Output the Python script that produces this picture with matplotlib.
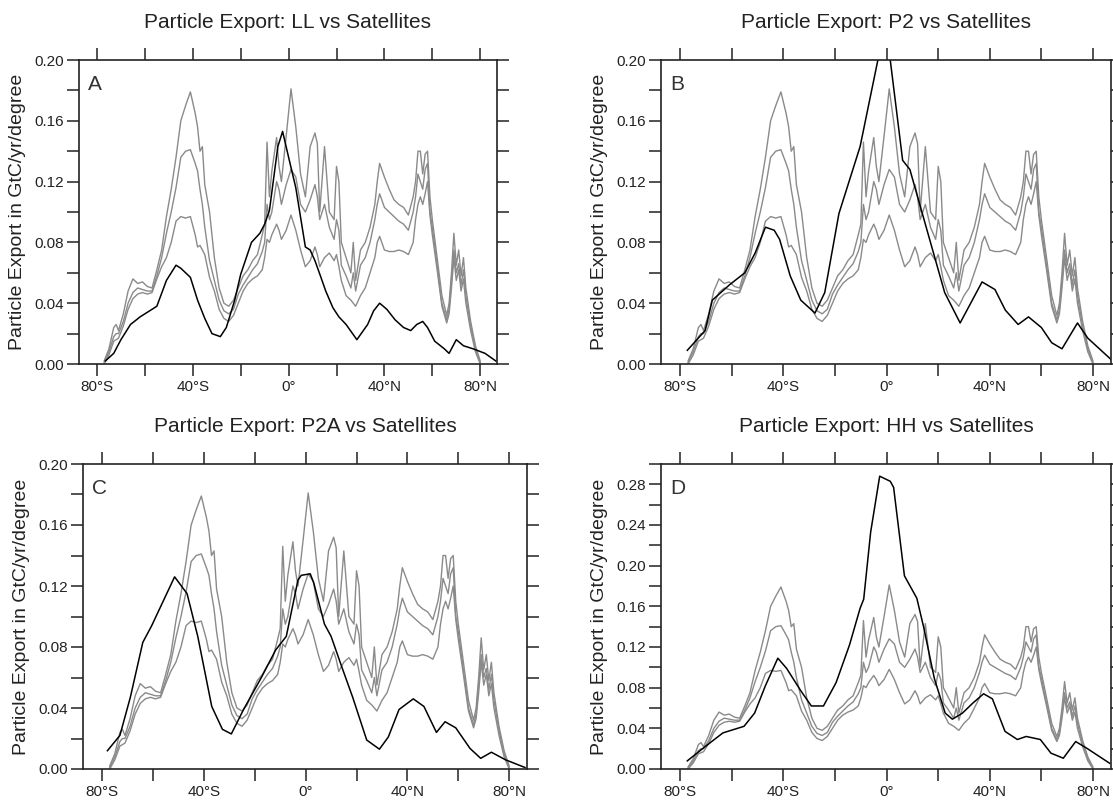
import matplotlib
matplotlib.use('Agg')
import matplotlib.pyplot as plt
from matplotlib.ticker import MultipleLocator, FuncFormatter

plt.rcParams['font.family'] = ['Liberation Sans', 'DejaVu Sans']

# satellite estimates (same three curves in every panel)
sat_lat = [-77, -75, -73, -72, -71, -69, -67, -65, -63, -61,
           -59, -57, -55, -53, -51, -49, -47, -45, -43, -41,
           -39, -38, -37, -36, -35, -33, -31, -29, -27, -25,
           -23, -21, -19, -17, -15, -13, -11, -10, -9, -8,
           -7, -5, -4, -3, -1, 1, 3, 5, 7, 9,
           11, 12, 13, 15, 17, 19, 20, 21, 22, 24,
           26, 27, 28, 30, 32, 34, 36, 37, 38, 40,
           42, 44, 46, 48, 50, 52, 53, 54, 55, 56,
           57, 58, 59, 60, 62, 64, 66, 67, 68, 69,
           70, 71, 72, 73, 74, 76, 78, 80]
sat_high = [0.002, 0.010, 0.024, 0.026, 0.022, 0.033, 0.048, 0.056, 0.053, 0.054,
            0.051, 0.050, 0.062, 0.075, 0.097, 0.115, 0.136, 0.160, 0.170, 0.179,
            0.165, 0.156, 0.140, 0.143, 0.118, 0.100, 0.070, 0.050, 0.040, 0.038,
            0.042, 0.050, 0.058, 0.062, 0.068, 0.072, 0.085, 0.092, 0.146, 0.110,
            0.127, 0.149, 0.130, 0.120, 0.150, 0.181, 0.156, 0.125, 0.110, 0.143,
            0.152, 0.145, 0.100, 0.143, 0.100, 0.095, 0.130, 0.120, 0.080, 0.070,
            0.060, 0.080, 0.055, 0.075, 0.080, 0.090, 0.105, 0.120, 0.132, 0.123,
            0.115, 0.108, 0.105, 0.103, 0.098, 0.110, 0.120, 0.140, 0.140, 0.125,
            0.138, 0.140, 0.110, 0.095, 0.070, 0.045, 0.032, 0.040, 0.060, 0.086,
            0.065, 0.075, 0.058, 0.070, 0.050, 0.028, 0.012, 0.002]
sat_mid = [0.001, 0.008, 0.018, 0.020, 0.020, 0.028, 0.040, 0.047, 0.050, 0.049,
           0.048, 0.048, 0.058, 0.070, 0.086, 0.100, 0.116, 0.136, 0.140, 0.141,
           0.132, 0.127, 0.115, 0.105, 0.090, 0.068, 0.055, 0.042, 0.035, 0.033,
           0.036, 0.046, 0.052, 0.057, 0.062, 0.066, 0.074, 0.080, 0.105, 0.095,
           0.100, 0.120, 0.115, 0.105, 0.118, 0.128, 0.123, 0.105, 0.100, 0.108,
           0.118, 0.110, 0.095, 0.105, 0.090, 0.082, 0.095, 0.088, 0.065, 0.058,
           0.050, 0.060, 0.048, 0.065, 0.070, 0.080, 0.095, 0.105, 0.112, 0.103,
           0.100, 0.097, 0.094, 0.092, 0.088, 0.100, 0.110, 0.125, 0.120, 0.115,
           0.128, 0.132, 0.100, 0.090, 0.065, 0.040, 0.029, 0.036, 0.055, 0.075,
           0.060, 0.066, 0.052, 0.062, 0.045, 0.025, 0.010, 0.001]
sat_low = [0.000, 0.006, 0.015, 0.016, 0.017, 0.025, 0.036, 0.043, 0.046, 0.047,
           0.046, 0.047, 0.056, 0.064, 0.070, 0.080, 0.094, 0.097, 0.096, 0.097,
           0.085, 0.077, 0.078, 0.075, 0.072, 0.057, 0.048, 0.036, 0.030, 0.028,
           0.032, 0.040, 0.048, 0.053, 0.056, 0.058, 0.062, 0.070, 0.082, 0.080,
           0.085, 0.092, 0.088, 0.082, 0.088, 0.098, 0.088, 0.075, 0.064, 0.068,
           0.077, 0.072, 0.064, 0.070, 0.073, 0.068, 0.072, 0.064, 0.055, 0.045,
           0.042, 0.040, 0.038, 0.045, 0.050, 0.060, 0.070, 0.080, 0.084, 0.075,
           0.074, 0.074, 0.075, 0.074, 0.072, 0.080, 0.095, 0.105, 0.110, 0.105,
           0.112, 0.120, 0.098, 0.085, 0.062, 0.038, 0.027, 0.033, 0.050, 0.070,
           0.055, 0.062, 0.048, 0.056, 0.040, 0.022, 0.008, 0.000]

# model curves
ll_lat = [-76.5, -73, -70, -66, -62, -58, -55, -51, -47, -45,
          -41, -38, -35, -32, -28.5, -26, -22.5, -20, -15.5, -12,
          -10, -8, -4.5, -2.5, 0, 3, 7, 9, 11, 13.5,
          15.5, 18.5, 21, 24, 28.5, 33, 35.5, 38, 41, 44.5,
          48, 51, 53.5, 56, 58, 61, 65, 67, 70, 73,
          77, 82, 86.5]
ll_val = [0.002, 0.007, 0.016, 0.026, 0.031, 0.035, 0.038, 0.055, 0.065, 0.063,
          0.057, 0.042, 0.030, 0.020, 0.018, 0.024, 0.042, 0.059, 0.080, 0.086,
          0.092, 0.101, 0.143, 0.153, 0.136, 0.116, 0.077, 0.075, 0.068, 0.057,
          0.048, 0.037, 0.031, 0.026, 0.016, 0.026, 0.035, 0.040, 0.036, 0.029,
          0.024, 0.022, 0.026, 0.028, 0.024, 0.015, 0.010, 0.007, 0.016, 0.012,
          0.010, 0.007, 0.002]

p2_lat = [-77.3, -70.4, -67.6, -61, -55, -51, -47, -43.6, -41.5, -37.4,
          -33.3, -27.8, -24, -18.5, -10.3, -3.4, 0, 1.4, 6.2, 9,
          13, 18.5, 22.5, 28.5, 37, 42, 46, 51, 55, 60,
          64, 68, 74, 78, 87]
p2_val = [0.009, 0.022, 0.042, 0.052, 0.060, 0.073, 0.090, 0.088, 0.082, 0.058,
          0.042, 0.0335, 0.047, 0.099, 0.143, 0.200, 0.202, 0.200, 0.134, 0.128,
          0.104, 0.071, 0.047, 0.027, 0.054, 0.049, 0.0355, 0.026, 0.031, 0.024,
          0.014, 0.010, 0.027, 0.017, 0.003]

p2a_lat = [-77.9, -73, -68.9, -64, -60.5, -51.5, -46.6, -42.4, -36.9, -32.7,
           -29.2, -24.4, -17.4, -11.8, -7.6, -3, -1.7, 1.8, 3.2, 7.4,
           10, 14.2, 18.5, 24, 29, 32.5, 36.7, 42.3, 46.5, 51.4,
           54.8, 59, 64.6, 68.8, 73, 78.6, 86.2]
p2a_val = [0.012, 0.022, 0.047, 0.083, 0.094, 0.126, 0.115, 0.087, 0.041, 0.026,
           0.023, 0.039, 0.060, 0.078, 0.087, 0.124, 0.127, 0.128, 0.122, 0.095,
           0.087, 0.067, 0.047, 0.019, 0.013, 0.021, 0.039, 0.046, 0.041, 0.024,
           0.031, 0.027, 0.0135, 0.007, 0.011, 0.006, 0.001]

hh_lat = [-77.3, -70.4, -63.5, -55.3, -51.2, -47, -42.2, -38.8, -33.3, -29.2,
          -24.5, -19.6, -14.4, -10.3, -8.9, -6.2, -2.7, 1.4, 2.7, 6.9,
          11.7, 14.4, 18.5, 22.7, 25.5, 29.4, 33.5, 37.6, 41, 45.9,
          50.7, 54.1, 59.6, 63.7, 68.5, 73.3, 77.5, 86.5]
hh_val = [0.008, 0.022, 0.0355, 0.042, 0.055, 0.082, 0.109, 0.099, 0.077, 0.062,
          0.062, 0.085, 0.122, 0.158, 0.167, 0.233, 0.288, 0.283, 0.277, 0.190,
          0.168, 0.139, 0.089, 0.055, 0.049, 0.055, 0.065, 0.074, 0.069, 0.037,
          0.029, 0.032, 0.029, 0.0156, 0.0106, 0.027, 0.0206, 0.0056]

model_names = ['LL', 'P2', 'P2A', 'HH']
panel_letters = ['A', 'B', 'C', 'D']
y_tops = [0.20, 0.20, 0.20, 0.30]

W, H = 1113, 800
GRAY = '#8a8a8a'

fig = plt.figure(figsize=(W / 100, H / 100), dpi=100)


def px_axes(left, top, right, bottom):
    return fig.add_axes([left / W, 1 - bottom / H, (right - left) / W, (bottom - top) / H])


def lat_fmt(v, pos):
    v = int(round(v))
    if v % 40:
        return ''
    if v == 0:
        return '0\u00b0'
    return f"{abs(v)}\u00b0{'S' if v < 0 else 'N'}"


# pixel boxes (left, top, right, bottom) and y label x position
boxes = [(79, 60, 497, 364), (661, 60, 1111, 364),
         (83, 464, 527, 769), (661, 464, 1111, 769)]
ylabel_x = [18, 600, 22, 600]
models = [(ll_lat, ll_val), (p2_lat, p2_val), (p2a_lat, p2a_val), (hh_lat, hh_val)]

for i in range(4):
    left, top, right, bottom = boxes[i]
    ax = px_axes(left, top, right, bottom)
    for s in (sat_high, sat_mid, sat_low):
        ax.plot(sat_lat, s, color=GRAY, lw=1.0)
    ax.plot(models[i][0], models[i][1], color='black', lw=1.1)

    ax.set_xlim(-87.5, 87)
    ax.set_ylim(0, y_tops[i])
    ax.xaxis.set_major_locator(MultipleLocator(20))
    ax.xaxis.set_major_formatter(FuncFormatter(lat_fmt))
    ax.yaxis.set_major_locator(MultipleLocator(0.04))
    ax.yaxis.set_minor_locator(MultipleLocator(0.02))
    ax.yaxis.set_major_formatter(FuncFormatter(lambda v, p: f'{v:.2f}'))
    ax.tick_params(axis='both', which='both', direction='out', length=8.5, width=1.1,
                   top=True, right=True, labelsize=11, colors='#222222')
    ax.tick_params(axis='x', pad=3)
    ax.tick_params(axis='y', pad=2)
    for sp in ax.spines.values():
        sp.set_linewidth(1.2)
        sp.set_color('#222222')

    h = bottom - top
    ax.text(0.5, 1 + 28 / h, f'Particle Export: {model_names[i]} vs Satellites',
            transform=ax.transAxes, ha='center', va='bottom', fontsize=15,
            color='#222222')
    ax.text(9 / (right - left), 1 - 15 / h, panel_letters[i], transform=ax.transAxes,
            ha='left', va='top', fontsize=15, color='#333333')
    fig.text(ylabel_x[i] / W, 1 - (top + bottom) / 2 / H,
             'Particle Export in GtC/yr/degree', rotation=90,
             ha='center', va='center', fontsize=14, color='#222222')

fig.savefig('out.png', dpi=100)
